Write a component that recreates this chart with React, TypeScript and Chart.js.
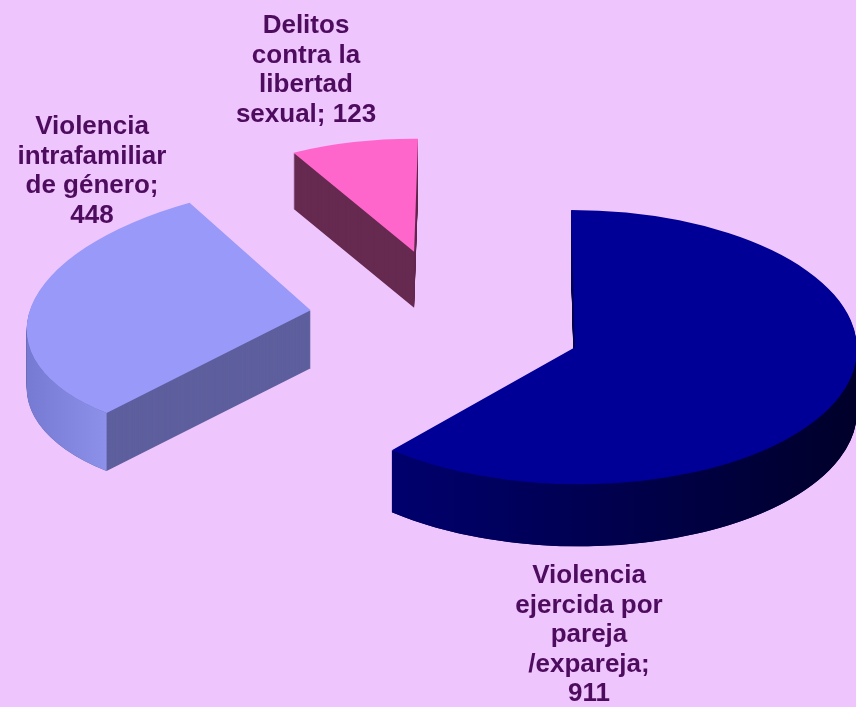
import React, { useEffect, useRef } from 'react';
import { Chart, registerables } from 'chart.js';

Chart.register(...registerables);

// ---- data ----
const categories = [
  'Violencia\nejercida por\npareja\n/expareja',
  'Violencia\nintrafamiliar\nde género',
  'Delitos\ncontra la\nlibertad\nsexual',
];
const values = [911, 448, 123];
const valueOnOwnLine = [true, true, false];

// ---- style ----
const topColors = ['#000096', '#9999FA', '#FF66CC'];
const cutColors = ['#000052', '#5E5F9E', '#662A50'];
const sideGradients = [
  ['#00007C', '#00002A'],
  ['#767AD2', '#9397EF'],
  ['#8A3468', '#8A3468'],
];
const BG = '#EFC5FD';
const TEXT = '#4E0C5E';
const FONT = 'bold 26px "Liberation Sans", Arial, sans-serif';
const TILT = 0.59;
const explode = [140, 134, 116];
const depth = [62, 58, 56];
const faceMatrix = [
  [1.007, 0, 0.014, 0.49],
  [1.011, -0.032, -0.082, 0.461],
  [0.889, 0.007, -0.014, 0.404],
];
const labelPos = [
  [589, 583],
  [92, 134],
  [306, 33],
];
const LINE_H = 29.5;

const pie3d = {
  id: 'pie3d',
  beforeDraw(chart: any) {
    const ctx = chart.ctx;
    ctx.save();
    ctx.fillStyle = BG;
    ctx.fillRect(0, 0, chart.width, chart.height);
    ctx.restore();
  },
  beforeDatasetsDraw(chart: any) {
    const ctx: CanvasRenderingContext2D = chart.ctx;
    const arcs = chart.getDatasetMeta(0).data;
    const base = ctx.getTransform();
    ctx.save();
    const order = [2, 1, 0];
    for (const i of order) {
      const arc = arcs[i];
      if (!arc) continue;
      const { x: cx, y: cy, startAngle, endAngle, outerRadius: R } = arc.getProps(
        ['x', 'y', 'startAngle', 'endAngle', 'outerRadius'],
        true
      );
      const mid = (startAngle + endAngle) / 2;
      const px = cx + Math.cos(mid) * explode[i];
      const py = cy + Math.sin(mid) * explode[i] * TILT;
      const m = faceMatrix[i];
      const place = (lift: number) => {
        ctx.setTransform(base);
        ctx.translate(px, py + lift);
        ctx.transform(m[0], m[1], m[2], m[3], 0, 0);
        ctx.translate(-cx, -cy);
      };
      const orig = arc.options;
      // extruded body
      arc.options = { ...orig, backgroundColor: cutColors[i], borderWidth: 0, offset: 0 };
      for (let t = depth[i]; t >= 1; t--) {
        place(t);
        arc.draw(ctx);
      }
      // curved outer side (front facing part)
      const phi0 = Math.atan2(m[2], m[0]);
      for (let k = -1; k <= 1; k++) {
        const f1 = phi0 + k * 2 * Math.PI;
        const f2 = f1 + Math.PI;
        const a1 = Math.max(f1, startAngle);
        const a2 = Math.min(f2, endAngle);
        if (a2 - a1 > 0.001) {
          ctx.beginPath();
          place(0);
          ctx.arc(cx, cy, R, a1, a2);
          place(depth[i]);
          ctx.arc(cx, cy, R, a2, a1, true);
          ctx.closePath();
          ctx.setTransform(base);
          const g = ctx.createLinearGradient(px - R * m[0], 0, px + R * m[0], 0);
          if (i === 1) {
            g.addColorStop(0, sideGradients[i][0]);
            g.addColorStop(0.18, sideGradients[i][1]);
            g.addColorStop(1, sideGradients[i][1]);
          } else {
            g.addColorStop(0, sideGradients[i][0]);
            g.addColorStop(1, sideGradients[i][1]);
          }
          ctx.fillStyle = g;
          ctx.fill();
        }
      }
      // top face
      place(0);
      arc.options = { ...orig, backgroundColor: topColors[i], borderWidth: 0, offset: 0 };
      arc.draw(ctx);
      arc.options = orig;
    }
    ctx.restore();
    return false;
  },
  afterDraw(chart: any) {
    const ctx: CanvasRenderingContext2D = chart.ctx;
    ctx.save();
    ctx.fillStyle = TEXT;
    ctx.font = FONT;
    ctx.textAlign = 'center';
    ctx.textBaseline = 'alphabetic';
    categories.forEach((cat, i) => {
      const text = cat + ';' + (valueOnOwnLine[i] ? '\n' : ' ') + values[i];
      text.split('\n').forEach((line, j) => {
        ctx.fillText(line, labelPos[i][0], labelPos[i][1] + j * LINE_H);
      });
    });
    ctx.restore();
  },
};

export default function App() {
  const ref = useRef<HTMLCanvasElement>(null);
  useEffect(() => {
    document.body.style.margin = '0';
    document.body.style.background = BG;
    const chart = new Chart(ref.current as HTMLCanvasElement, {
      type: 'pie',
      data: {
        labels: categories.map((c) => c.replace(/\n/g, ' ')),
        datasets: [
          {
            data: values,
            backgroundColor: topColors,
            borderWidth: 0,
            offset: 0,
            radius: 280,
          } as any,
        ],
      },
      options: {
        responsive: false,
        animation: false,
        events: [],
        layout: { padding: { left: 32, right: 0, top: 0, bottom: 71 } },
        plugins: { legend: { display: false }, tooltip: { enabled: false } },
      } as any,
      plugins: [pie3d as any],
    });
    return () => chart.destroy();
  }, []);
  return <canvas ref={ref} width={856} height={707} style={{ display: 'block' }} />;
}
